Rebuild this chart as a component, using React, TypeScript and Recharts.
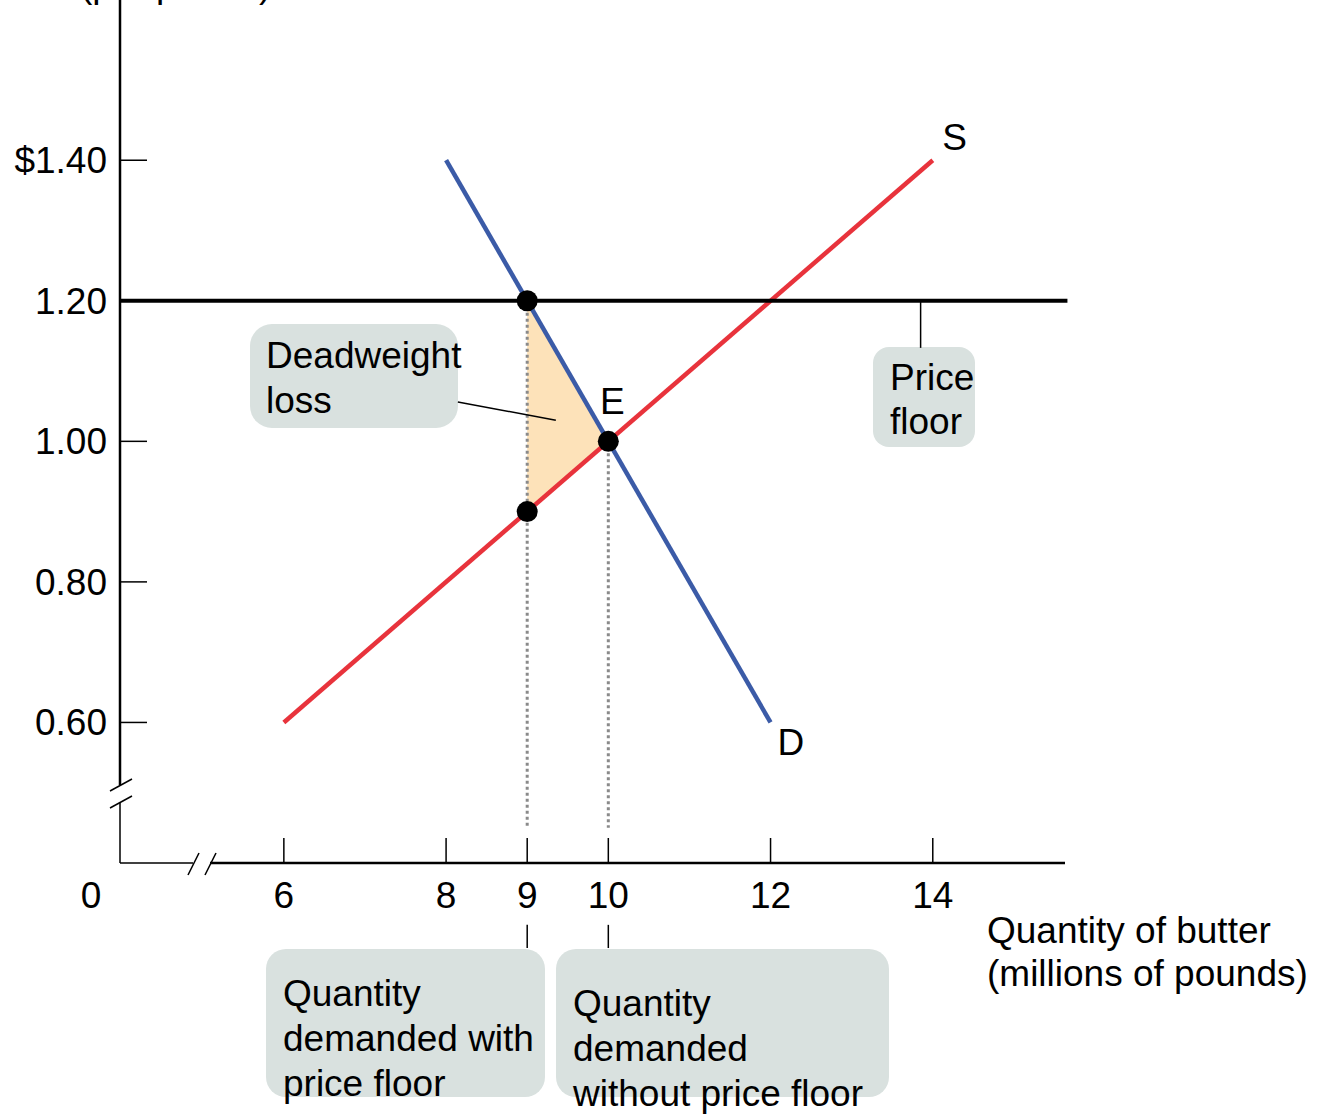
import React from 'react'
import {
  ComposedChart,
  Line,
  Area,
  Scatter,
  XAxis,
  YAxis,
  ReferenceLine,
  ReferenceDot,
  Customized,
} from 'recharts'

// values
const quantityTicks = [6, 8, 9, 10, 12, 14]
const priceTicks = [0.6, 0.8, 1.0, 1.2, 1.4]
const supplyQ = [6, 14]
const supplyP = [0.6, 1.4]
const demandQ = [8, 12]
const demandP = [1.4, 0.6]
const pointQ = [9, 10, 9]
const pointP = [1.2, 1.0, 0.9]
const dwlQ = [9, 10]
const dwlLow = [0.9, 1.0]
const dwlHigh = [1.2, 1.0]
const priceFloor = 1.2
const curveLabels = [
  { text: 'S', q: 14.27, p: 1.433 },
  { text: 'E', q: 10.05, p: 1.057 },
  { text: 'D', q: 12.25, p: 0.572 },
]

const supply = supplyQ.map((q, i) => ({ q, p: supplyP[i] }))
const demand = demandQ.map((q, i) => ({ q, p: demandP[i] }))
const points = pointQ.map((q, i) => ({ q, p: pointP[i] }))
const dwl = dwlQ.map((q, i) => ({ q, range: [dwlLow[i], dwlHigh[i]] }))

const W = 1318
const H = 1114
const PLOT_LEFT = 120
const PLOT_RIGHT = 1065
const PLOT_BOTTOM = 863
const X_DOMAIN: [number, number] = [3.98, 15.63]
const Y_DOMAIN: [number, number] = [0.4, 1.628]

const FONT = '"Liberation Sans", Arial, sans-serif'
const FS = 37
const RED = '#e8333c'
const BLUE = '#3b5ba7'
const BOX = '#d9e1df'

function QuantityTick({ x, payload }: any) {
  return (
    <g>
      <line x1={x} x2={x} y1={PLOT_BOTTOM} y2={PLOT_BOTTOM - 25} stroke="#000" strokeWidth={1.5} />
      <text x={x} y={908} textAnchor="middle" fontFamily={FONT} fontSize={FS} fill="#000">
        {payload.value}
      </text>
    </g>
  )
}

function PriceTick({ y, payload }: any) {
  const v = payload.value as number
  const label = v === 1.4 ? '$1.40' : v.toFixed(2)
  return (
    <g>
      <line x1={PLOT_LEFT} x2={PLOT_LEFT + 27} y1={y} y2={y} stroke="#000" strokeWidth={1.5} />
      <text x={107} y={y + 13} textAnchor="end" fontFamily={FONT} fontSize={FS} fill="#000">
        {label}
      </text>
    </g>
  )
}

function Dot({ cx, cy }: any) {
  return <circle cx={cx} cy={cy} r={10.5} fill="#000" />
}

function CenterLabel({ viewBox, value }: any) {
  return (
    <text x={viewBox.x} y={viewBox.y + 13} textAnchor="middle" fontFamily={FONT} fontSize={FS} fill="#000">
      {value}
    </text>
  )
}

function TextLines({ x, ys, lines }: { x: number; ys: number[]; lines: string[] }) {
  return (
    <>
      {lines.map((l, i) => (
        <text key={i} x={x} y={ys[i]} fontFamily={FONT} fontSize={FS} fill="#000">
          {l}
        </text>
      ))}
    </>
  )
}

// axis frame with breaks, callout boxes and axis titles
function Decor() {
  return (
    <g>
      <line x1={PLOT_LEFT} x2={PLOT_LEFT} y1={0} y2={785} stroke="#000" strokeWidth={2.5} />
      <line x1={110} y1={791} x2={132} y2={779} stroke="#000" strokeWidth={1.5} />
      <line x1={110} y1={808} x2={132} y2={796} stroke="#000" strokeWidth={1.5} />
      <line x1={PLOT_LEFT} x2={PLOT_LEFT} y1={803} y2={PLOT_BOTTOM} stroke="#000" strokeWidth={1.5} />
      <line x1={PLOT_LEFT} x2={193} y1={PLOT_BOTTOM} y2={PLOT_BOTTOM} stroke="#000" strokeWidth={1.5} />
      <line x1={188} y1={875} x2={199} y2={853} stroke="#000" strokeWidth={1.5} />
      <line x1={205} y1={875} x2={216} y2={853} stroke="#000" strokeWidth={1.5} />
      <line x1={210} x2={PLOT_RIGHT} y1={PLOT_BOTTOM} y2={PLOT_BOTTOM} stroke="#000" strokeWidth={2.5} />

      <text x={91} y={908} textAnchor="middle" fontFamily={FONT} fontSize={FS} fill="#000">0</text>
      <text x={80} y={-3} fontFamily={FONT} fontSize={FS} fill="#000">(per pound)</text>

      <TextLines x={987} ys={[943, 986]} lines={['Quantity of butter', '(millions of pounds)']} />

      <rect x={250} y={324} width={208} height={104} rx={22} fill={BOX} />
      <TextLines x={266} ys={[368, 413]} lines={['Deadweight', 'loss']} />

      <rect x={873} y={347} width={102} height={100} rx={16} fill={BOX} />
      <TextLines x={890} ys={[390, 434]} lines={['Price', 'floor']} />

      <rect x={266} y={949} width={279} height={148} rx={20} fill={BOX} />
      <TextLines x={283} ys={[1006, 1051, 1096]} lines={['Quantity', 'demanded with', 'price floor']} />

      <rect x={556} y={949} width={333} height={148} rx={20} fill={BOX} />
      <TextLines x={573} ys={[1016, 1061, 1106]} lines={['Quantity', 'demanded', 'without price floor']} />
    </g>
  )
}

export default function App() {
  return (
    <div style={{ position: 'absolute', left: 0, top: 0, width: W, height: H, background: '#fff' }}>
      <ComposedChart
        width={W}
        height={H}
        margin={{ top: 0, left: 0, right: W - PLOT_RIGHT, bottom: 0 }}
      >
        <XAxis
          type="number"
          dataKey="q"
          domain={X_DOMAIN}
          allowDataOverflow
          ticks={quantityTicks}
          interval={0}
          height={H - PLOT_BOTTOM}
          axisLine={false}
          tickLine={false}
          tick={<QuantityTick />}
        />
        <YAxis
          type="number"
          dataKey="p"
          domain={Y_DOMAIN}
          allowDataOverflow
          ticks={priceTicks}
          interval={0}
          width={PLOT_LEFT}
          axisLine={false}
          tickLine={false}
          tick={<PriceTick />}
        />
        <Customized component={<Decor />} />

        <Area
          data={dwl}
          dataKey="range"
          type="linear"
          fill="#fde2b9"
          fillOpacity={1}
          stroke="none"
          isAnimationActive={false}
        />

        <ReferenceLine
          segment={[{ x: 9, y: priceFloor }, { x: 9, y: 0.45 }]}
          stroke="#8a8a8a"
          strokeWidth={3}
          strokeDasharray="3 3"
          ifOverflow="visible"
        />
        <ReferenceLine
          segment={[{ x: 10, y: 1.0 }, { x: 10, y: 0.45 }]}
          stroke="#8a8a8a"
          strokeWidth={3}
          strokeDasharray="3 3"
          ifOverflow="visible"
        />

        {/* callout leaders */}
        <ReferenceLine segment={[{ x: 8.145, y: 1.056 }, { x: 9.353, y: 1.03 }]} stroke="#000" strokeWidth={1.5} ifOverflow="visible" />
        <ReferenceLine segment={[{ x: 13.85, y: priceFloor }, { x: 13.85, y: 1.133 }]} stroke="#000" strokeWidth={1.5} ifOverflow="visible" />
        <ReferenceLine segment={[{ x: 9, y: 0.312 }, { x: 9, y: 0.279 }]} stroke="#000" strokeWidth={1.5} ifOverflow="visible" />
        <ReferenceLine segment={[{ x: 10, y: 0.312 }, { x: 10, y: 0.279 }]} stroke="#000" strokeWidth={1.5} ifOverflow="visible" />

        <Line data={supply} dataKey="p" type="linear" stroke={RED} strokeWidth={4.5} dot={false} isAnimationActive={false} />
        <Line data={demand} dataKey="p" type="linear" stroke={BLUE} strokeWidth={4.5} dot={false} isAnimationActive={false} />

        <ReferenceLine
          segment={[{ x: X_DOMAIN[0], y: priceFloor }, { x: 15.66, y: priceFloor }]}
          stroke="#000"
          strokeWidth={4}
          ifOverflow="visible"
        />

        <Scatter data={points} dataKey="p" fill="#000" shape={<Dot />} isAnimationActive={false} />

        {curveLabels.map((l) => (
          <ReferenceDot
            key={l.text}
            x={l.q}
            y={l.p}
            r={0}
            fill="none"
            stroke="none"
            ifOverflow="visible"
            label={<CenterLabel value={l.text} />}
          />
        ))}
      </ComposedChart>
    </div>
  )
}
